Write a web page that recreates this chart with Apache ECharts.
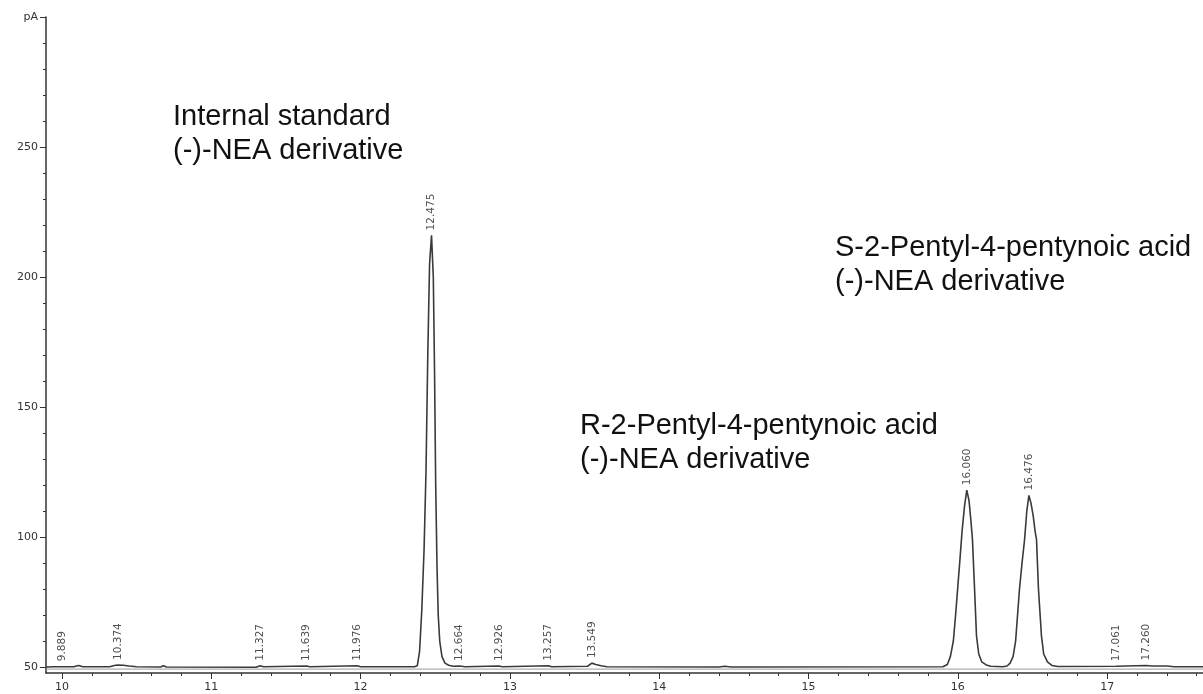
<!DOCTYPE html>
<html><head><meta charset="utf-8">
<script src="https://cdn.jsdelivr.net/npm/echarts@6/dist/echarts.min.js"></script>
<style>html,body{margin:0;padding:0;background:#fff}#c{width:1203px;height:694px}</style>
</head><body><div id="c"></div>
<script>
// ---- data ----
const signalTime = [
  9.893, 9.95, 10.08, 10.11, 10.14, 10.32, 10.35, 10.374, 10.41, 10.45, 10.5, 10.66, 10.68, 10.70,
  11.30, 11.327, 11.35, 11.639, 11.66, 11.976, 12.0, 12.36,
  12.38, 12.395, 12.41, 12.425, 12.438, 12.45, 12.462, 12.475, 12.487, 12.495, 12.503, 12.512, 12.52, 12.53, 12.545, 12.565, 12.59, 12.62,
  12.664, 12.7, 12.926, 12.95, 13.257, 13.28, 13.52, 13.549, 13.575, 13.61, 13.65, 14.4, 14.44, 14.48, 15.9,
  15.93, 15.95, 15.97, 15.985, 16.0, 16.015, 16.028, 16.045, 16.06, 16.075, 16.088, 16.098, 16.112, 16.125, 16.14, 16.16, 16.19, 16.22, 16.3,
  16.33, 16.35, 16.37, 16.387, 16.40, 16.413, 16.43, 16.447, 16.462, 16.476, 16.49, 16.505, 16.518, 16.527, 16.54, 16.56, 16.575, 16.6, 16.63, 16.67,
  17.061, 17.26, 17.30, 17.40, 17.45, 17.642
];
const signalValue = [
  50.0, 50.1, 50.1, 50.6, 50.1, 50.1, 50.6, 50.8, 50.7, 50.4, 50.1, 50.0, 50.5, 50.0,
  49.9, 50.5, 50.1, 50.4, 50.1, 50.5, 50.1, 50.1,
  50.5, 56, 72, 95, 125, 170, 205, 216, 200, 165, 120, 88, 70, 60, 54, 51.5, 50.7, 50.3,
  50.4, 50.1, 50.4, 50.1, 50.5, 50.1, 50.3, 51.5, 51.0, 50.5, 50.1, 50.0, 50.3, 50.0, 50.1,
  51, 54, 60, 70, 81, 92, 102, 112, 118, 114, 106, 99, 80, 62, 55, 52, 50.8, 50.3, 50.1,
  50.4, 51.5, 54, 60, 70, 80, 90, 99, 110, 116, 113, 108, 102, 99, 80, 62, 55, 52, 50.6, 50.2,
  50.3, 50.6, 50.4, 50.4, 50.1, 50.1
];
const baselineTime = [9.893, 17.642];
const baselineValue = [49.2, 49.2];

const peakTimes   = [9.889, 10.374, 11.327, 11.639, 11.976, 12.475, 12.664, 12.926, 13.257, 13.549, 16.060, 16.476, 17.061, 17.260];
const peakHeights = [50.3, 50.8, 50.5, 50.4, 50.5, 216, 50.4, 50.4, 50.5, 51.5, 118, 116, 50.3, 50.6];

const xMajorTicks = [10, 11, 12, 13, 14, 15, 16, 17];
const yMajorTicks = [50, 100, 150, 200, 250, 300];
const yTopLabel = 'pA';

const annotations = [
  {lines: ['Internal standard', '(-)-NEA derivative'], x: 173, y: 118},
  {lines: ['S-2-Pentyl-4-pentynoic acid', '(-)-NEA derivative'], x: 835, y: 249},
  {lines: ['R-2-Pentyl-4-pentynoic acid', '(-)-NEA derivative'], x: 580, y: 427}
];

// ---- chart ----
const X_MIN = 9.893, X_MAX = 17.642, Y_MIN = 47.7, Y_MAX = 300;
const xMinorTicks = [];
for (let i = 50; i <= 88; i++) xMinorTicks.push(+(i * 0.2).toFixed(1));
const yMinorTicks = [];
for (let v = 50; v <= 300; v += 10) yMinorTicks.push(v);

const signal = signalTime.map((t, i) => [t, signalValue[i]]);
const baseline = baselineTime.map((t, i) => [t, baselineValue[i]]);
const peaks = peakTimes.map((t, i) => {
  const item = {value: [t, peakHeights[i]], name: t.toFixed(3)};
  if (t < X_MIN) item.label = {offset: [0, 17]};
  return item;
});

const axisColor = '#333';
const labelFont = {fontFamily: 'DejaVu Sans', fontSize: 11, color: '#333'};

const graphics = [];
annotations.forEach(a => {
  a.lines.forEach((line, j) => {
    graphics.push({
      type: 'text', left: a.x, top: a.y + j * 34 - 16,
      style: {text: line, font: '29px "Liberation Sans", Arial, sans-serif', fill: '#111'}
    });
  });
});

const chart = echarts.init(document.getElementById('c'), null, {renderer: 'canvas'});
chart.setOption({
  animation: false,
  backgroundColor: '#fff',
  grid: {left: 46, right: 0, top: 17, bottom: 21, containLabel: false},
  xAxis: [
    {
      type: 'value', min: X_MIN, max: X_MAX, position: 'bottom',
      axisLine: {show: true, lineStyle: {color: axisColor, width: 1.5}},
      axisTick: {show: true, customValues: xMajorTicks, length: 6, lineStyle: {color: axisColor}},
      axisLabel: Object.assign({show: true, customValues: xMajorTicks, margin: 9}, labelFont),
      splitLine: {show: false}
    },
    {
      type: 'value', min: X_MIN, max: X_MAX, position: 'bottom',
      axisLine: {show: false},
      axisTick: {show: true, customValues: xMinorTicks, length: 3, lineStyle: {color: axisColor}},
      axisLabel: {show: false},
      splitLine: {show: false}
    }
  ],
  yAxis: [
    {
      type: 'value', min: Y_MIN, max: Y_MAX, position: 'left',
      axisLine: {show: true, lineStyle: {color: axisColor, width: 1.5}},
      axisTick: {show: true, customValues: yMajorTicks, length: 6, lineStyle: {color: axisColor}},
      axisLabel: Object.assign({show: true, customValues: yMajorTicks, margin: 8,
        formatter: v => (v === 300 ? yTopLabel : String(v))}, labelFont),
      splitLine: {show: false}
    },
    {
      type: 'value', min: Y_MIN, max: Y_MAX, position: 'left',
      axisLine: {show: false},
      axisTick: {show: true, customValues: yMinorTicks, length: 3, lineStyle: {color: axisColor}},
      axisLabel: {show: false},
      splitLine: {show: false}
    }
  ],
  series: [
    {
      type: 'line', data: baseline, xAxisIndex: 0, yAxisIndex: 0,
      showSymbol: false, lineStyle: {color: '#9a9a9a', width: 1}, silent: true
    },
    {
      type: 'line', data: signal, xAxisIndex: 0, yAxisIndex: 0,
      showSymbol: false, lineStyle: {color: '#3a3a3a', width: 1.6}, silent: true
    },
    {
      type: 'scatter', data: peaks, xAxisIndex: 0, yAxisIndex: 0, clip: false,
      symbolSize: 0, silent: true,
      label: Object.assign({
        show: true, position: 'top', distance: 5, rotate: 90,
        align: 'left', verticalAlign: 'middle',
        formatter: p => p.name
      }, labelFont, {fontSize: 10.5, color: '#222'})
    }
  ],
  graphic: graphics
});
</script></body></html>
